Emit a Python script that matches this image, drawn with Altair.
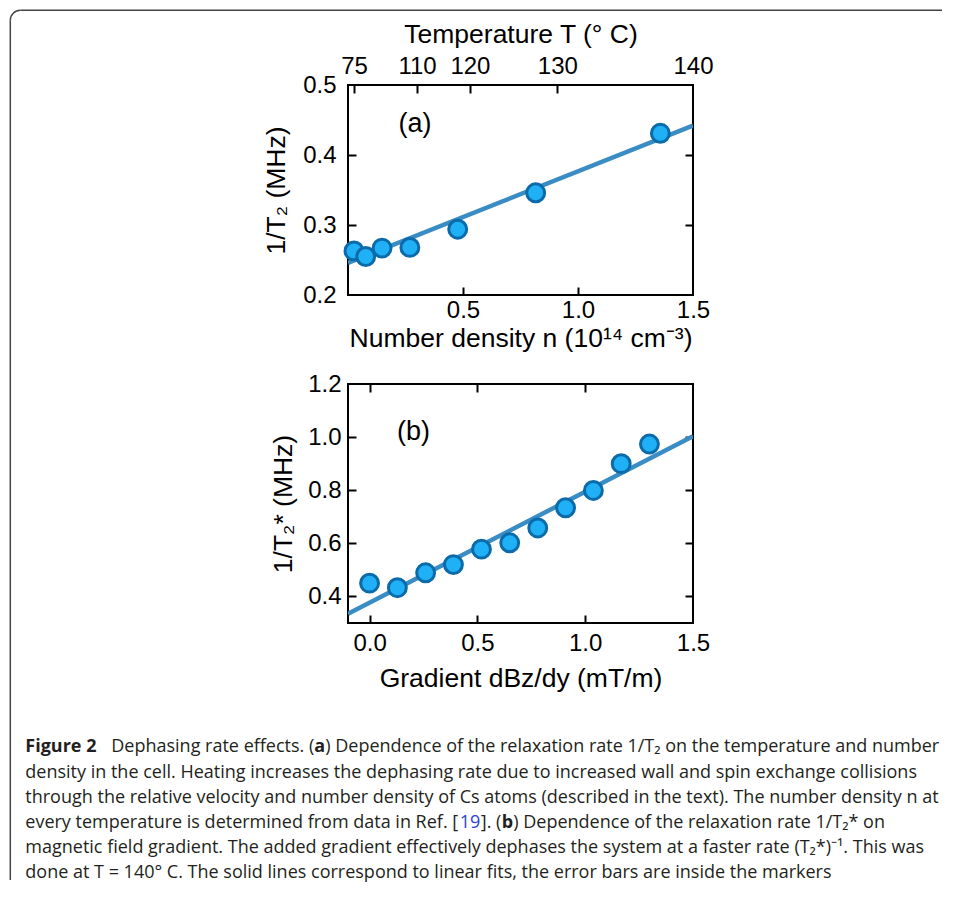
import altair as alt
import pandas as pd

# ---------------- data ----------------
# Panel (a): relaxation rate vs number density
n_density = [0.026, 0.077, 0.148, 0.269, 0.477, 0.816, 1.358]
rate_a = [0.263, 0.255, 0.267, 0.268, 0.294, 0.346, 0.431]
fit_a_n = [0.0, 1.5]
fit_a_rate = [0.246, 0.442]
temp_labels = ["75", "110", "120", "130", "140"]
temp_pos_n = [0.026, 0.3, 0.53, 0.91, 1.5]

# Panel (b): relaxation rate vs gradient
grad = [0.0, 0.129, 0.260, 0.389, 0.519, 0.650, 0.780, 0.909, 1.038, 1.167, 1.298]
rate_b = [0.450, 0.433, 0.489, 0.520, 0.578, 0.602, 0.658, 0.734, 0.799, 0.900, 0.974]
fit_b_grad = [-0.1, 1.5]
fit_b_rate = [0.335, 1.003]

# Caption (line index, text segments)
cap1_parts = ["Figure 2", "Dephasing rate effects. (", "a",
              ") Dependence of the relaxation rate 1/T₂ on the temperature and number"]
cap_middle = [
    "density in the cell. Heating increases the dephasing rate due to increased wall and spin exchange collisions",
    "through the relative velocity and number density of Cs atoms (described in the text). The number density n at",
]
cap4_parts = ["every temperature is determined from data in Ref. [", "19", "]. (", "b",
              ") Dependence of the relaxation rate 1/T₂* on"]
cap_tail = [
    "magnetic field gradient. The added gradient effectively dephases the system at a faster rate (T₂*)⁻¹. This was",
    "done at T = 140° C. The solid lines correspond to linear fits, the error bars are inside the markers",
]

# ---------------- styles ----------------
FONT = "Liberation Sans"
CAP_FONT = "Open Sans"
CAP_SIZE = 18
CAP_COLOR = "#231f20"
FILL = "#1FB0F6"
EDGE = "#0B6BAA"
LINE = "#3A8DC4"
BORDER = "#444444"
W, HA, HB = 345, 210, 239
R = 10
ORIGIN_X = 345.7  # page x of the panels' left edge (used to place caption segments)


def tick_axis(orient, vals):
    return alt.Axis(orient=orient, values=vals, ticks=True, tickSize=8, tickWidth=2,
                    tickColor="black", labels=False, domain=False, title=None,
                    offset=-8, grid=False)


def label_axis(orient, vals, title, lpad, tpad, expr=None):
    kw = dict(orient=orient, values=vals, format=".1f", ticks=False, domain=False,
              labelPadding=lpad, title=title, titlePadding=tpad, grid=False,
              labelFlush=False, labelOverlap=False,
              labelFont=FONT, labelFontSize=24, labelColor="black",
              titleFont=FONT, titleFontSize=26.5, titleColor="black",
              titleFontWeight="normal")
    if expr is not None:
        kw["labelExpr"] = expr
    return alt.Axis(**kw)


temp_expr = "".join(f"datum.value == {p} ? '{l}' : " for p, l in zip(temp_pos_n, temp_labels)) + "''"

# ---------------- panel (a) ----------------
df_a = pd.DataFrame({"n": n_density, "rate": rate_a})
df_fa = pd.DataFrame({"n": fit_a_n, "rate": fit_a_rate})
xs_a = alt.Scale(domain=[0, 1.5], nice=False, zero=False)
ys_a = alt.Scale(domain=[0.2, 0.5], nice=False, zero=False)

line_a = alt.Chart(df_fa).mark_line(color=LINE, strokeWidth=4.5, clip=True).encode(
    x=alt.X("n:Q", scale=xs_a,
            axis=label_axis("bottom", [0.5, 1.0, 1.5], "Number density  n (10¹⁴ cm⁻³)", 3, 3)),
    y=alt.Y("rate:Q", scale=ys_a,
            axis=label_axis("left", [0.2, 0.3, 0.4, 0.5], "1/T₂ (MHz)", 12, 12)),
)
pts_a = alt.Chart(df_a).mark_circle(size=320, opacity=1, fill=FILL, stroke=EDGE,
                                    strokeWidth=3).encode(
    x=alt.X("n:Q", scale=xs_a, axis=tick_axis("bottom", [0.5, 1.0])),
    y=alt.Y("rate:Q", scale=ys_a, axis=tick_axis("left", [0.3, 0.4])),
)
top_a = alt.Chart(df_a).mark_point(opacity=0).encode(
    x=alt.X("n:Q", scale=xs_a,
            axis=label_axis("top", temp_pos_n, "Temperature T (° C)", 7, 6, temp_expr)),
    y=alt.Y("rate:Q", scale=ys_a, axis=tick_axis("right", [0.3, 0.4])),
)
top_ticks_a = alt.Chart(df_a).mark_point(opacity=0).encode(
    x=alt.X("n:Q", scale=xs_a, axis=tick_axis("top", temp_pos_n[:4])),
    y=alt.Y("rate:Q", scale=ys_a, axis=None),
)
lbl_a = alt.Chart(pd.DataFrame({"n": [0.291], "rate": [0.445], "t": ["(a)"]})).mark_text(
    font=FONT, fontSize=27, color="black").encode(
    x=alt.X("n:Q", scale=xs_a, axis=None),
    y=alt.Y("rate:Q", scale=ys_a, axis=None),
    text="t:N",
)

one = pd.DataFrame({"k": [0]})
bx, by = -337.7, -74.7
border_top = alt.Chart(one).mark_rule(color=BORDER, strokeWidth=1.5).encode(
    x=alt.value(bx + R), x2=alt.value(594), y=alt.value(by))
border_left = alt.Chart(one).mark_rule(color=BORDER, strokeWidth=1.5).encode(
    x=alt.value(bx), y=alt.value(by + R), y2=alt.value(795))
border_corner = alt.Chart(one).mark_arc(color=BORDER, radius=R + 0.75, radius2=R - 0.75,
                                        theta=4.7124, theta2=6.2832).encode(
    x=alt.value(bx + R), y=alt.value(by + R))

panel_a = alt.layer(line_a, pts_a, top_a, top_ticks_a, lbl_a,
                    border_top, border_left, border_corner).resolve_axis(
    x="independent", y="independent").properties(
    width=W, height=HA, view=alt.ViewBackground(stroke="black", strokeWidth=2))

# ---------------- panel (b) ----------------
df_b = pd.DataFrame({"g": grad, "rate": rate_b})
df_fb = pd.DataFrame({"g": fit_b_grad, "rate": fit_b_rate})
xs_b = alt.Scale(domain=[-0.1, 1.5], nice=False, zero=False)
ys_b = alt.Scale(domain=[0.3, 1.2], nice=False, zero=False)

line_b = alt.Chart(df_fb).mark_line(color=LINE, strokeWidth=4.5, clip=True).encode(
    x=alt.X("g:Q", scale=xs_b,
            axis=label_axis("bottom", [0.0, 0.5, 1.0, 1.5], "Gradient dBz/dy (mT/m)", 8, 10)),
    y=alt.Y("rate:Q", scale=ys_b,
            axis=label_axis("left", [0.4, 0.6, 0.8, 1.0, 1.2], "1/T₂* (MHz)", 7, 10)),
)
pts_b = alt.Chart(df_b).mark_circle(size=320, opacity=1, fill=FILL, stroke=EDGE,
                                    strokeWidth=3).encode(
    x=alt.X("g:Q", scale=xs_b, axis=tick_axis("bottom", [0.0, 0.5, 1.0])),
    y=alt.Y("rate:Q", scale=ys_b, axis=tick_axis("left", [0.4, 0.6, 0.8, 1.0])),
)
mir_b = alt.Chart(df_b).mark_point(opacity=0).encode(
    x=alt.X("g:Q", scale=xs_b, axis=tick_axis("top", [0.0, 0.5, 1.0])),
    y=alt.Y("rate:Q", scale=ys_b, axis=tick_axis("right", [0.4, 0.6, 0.8, 1.0])),
)
lbl_b = alt.Chart(pd.DataFrame({"g": [0.204], "rate": [1.018], "t": ["(b)"]})).mark_text(
    font=FONT, fontSize=27, color="black").encode(
    x=alt.X("g:Q", scale=xs_b, axis=None),
    y=alt.Y("rate:Q", scale=ys_b, axis=None),
    text="t:N",
)
panel_b = alt.layer(line_b, pts_b, mir_b, lbl_b).resolve_axis(
    x="independent", y="independent").properties(
    width=W, height=HB, view=alt.ViewBackground(stroke="black", strokeWidth=2))

# ---------------- caption ----------------
cap_scale = alt.Scale(domain=[0, 5], range=[35.3, 161.3])


def seg(line, text, page_x, weight="normal", color=CAP_COLOR, align="left"):
    df = pd.DataFrame({"line": [line], "text": [text]})
    return alt.Chart(df).mark_text(align=align, baseline="middle", font=CAP_FONT,
                                   fontSize=CAP_SIZE, fontWeight=weight, color=color).encode(
        x=alt.value(page_x - ORIGIN_X),
        y=alt.Y("line:Q", scale=cap_scale, axis=None), text="text:N")


df_plain = pd.DataFrame({"line": [1, 2, 4, 5], "text": cap_middle + cap_tail})
cap_plain = alt.Chart(df_plain).mark_text(align="left", baseline="middle", font=CAP_FONT,
                                          fontSize=CAP_SIZE, color=CAP_COLOR).encode(
    x=alt.value(23 - ORIGIN_X), y=alt.Y("line:Q", scale=cap_scale, axis=None), text="text:N")

caption = alt.layer(
    seg(0, cap1_parts[0], 23, "bold"),
    seg(0, cap1_parts[1], 312, align="right"),
    seg(0, cap1_parts[2], 312, "bold"),
    seg(0, cap1_parts[3], 323),
    cap_plain,
    seg(3, cap4_parts[0], 23),
    seg(3, cap4_parts[1], 457.5, color="#2B3FD6"),
    seg(3, cap4_parts[2], 478.5),
    seg(3, cap4_parts[3], 499.5, "bold"),
    seg(3, cap4_parts[4], 511),
).properties(width=W, height=170, view=alt.ViewBackground(stroke=None))

chart = alt.vconcat(panel_a, panel_b, caption, spacing=89, bounds="flush").properties(
    padding=0).configure_view(stroke=None).configure_axis(grid=False)

chart.save("out.html", embed_options={"renderer": "svg", "actions": False})
